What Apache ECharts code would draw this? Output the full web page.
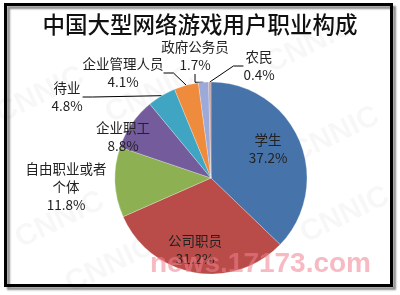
<!DOCTYPE html>
<html>
<head>
<meta charset="utf-8">
<script src="https://cdn.jsdelivr.net/npm/echarts@6/dist/echarts.min.js"></script>
<style>
  html, body { margin: 0; padding: 0; background: #fff; }
  #chart { width: 400px; height: 295px; }
</style>
</head>
<body>
<div id="chart"></div>
<script>
// Occupation breakdown of large online game users (percent)
const categories = ['学生', '公司职员', '自由职业或者个体', '企业职工', '待业', '企业管理人员', '政府公务员', '农民'];
const labelNames = ['学生', '公司职员', '自由职业或者\n个体', '企业职工', '待业', '企业管理人员', '政府公务员', '农民'];
const shares = [37.2, 31.2, 11.8, 8.8, 4.8, 4.1, 1.7, 0.4];

const sliceColors = ['#4573AA', '#B94C48', '#8DB152', '#745C9C', '#3FA5C2', '#EF8B3C', '#9CA9D9', '#C4A3A1'];
// label centres, in pixels
const labelSpots = [[268, 149], [195, 250], [66, 187], [123, 137], [67, 97], [123, 73], [195, 56], [259, 66]];
const withLeader = [false, false, false, false, true, true, true, true];

const chart = echarts.init(document.getElementById('chart'), null, { renderer: 'canvas' });

const watermarks = [
  [40, 95], [150, 95], [310, 45], [335, 135], [345, 215], [60, 220], [260, 200], [110, 265]
].map(function (p) {
  return {
    type: 'text', x: p[0], y: p[1], rotation: 0.45, z: 0,
    style: { text: 'CNNIC', fill: 'rgba(0,0,0,0.03)', font: 'bold 30px "Liberation Sans"', align: 'center', verticalAlign: 'middle' }
  };
});

chart.setOption({
  backgroundColor: '#fff',
  animation: false,
  title: {
    text: '中国大型网络游戏用户职业构成',
    left: 'center',
    top: 8,
    textStyle: { fontFamily: 'Noto Sans CJK SC', fontSize: 22.5, fontWeight: 500, color: '#111' }
  },
  graphic: watermarks.concat([
    {
      type: 'text', x: 8, y: -9, z: 5,
      style: { text: 'www.17173.com', fill: '#333', font: '10px "Liberation Sans"' }
    },
    {
      type: 'rect', z: 100, silent: true,
      shape: { x: 5.5, y: 4.5, width: 386, height: 281 },
      style: {
        fill: 'none', stroke: '#000', lineWidth: 3,
        shadowColor: 'rgba(0,0,0,0.45)', shadowBlur: 2, shadowOffsetX: 3, shadowOffsetY: 3
      }
    },
    {
      type: 'text', x: 150, y: 264, z: 110, silent: true,
      style: {
        text: 'news.17173.com', fill: 'rgba(240,128,144,0.55)',
        font: 'bold 28px "Liberation Sans"', verticalAlign: 'middle'
      }
    }
  ]),
  series: [{
    type: 'pie',
    center: [211, 178],
    radius: [0, 96],
    startAngle: 90,
    clockwise: true,
    avoidLabelOverlap: false,
    itemStyle: { borderColor: 'rgba(255,255,255,0.5)', borderWidth: 0.5 },
    label: {
      show: true,
      fontFamily: 'Noto Sans CJK SC',
      fontSize: 13.5,
      lineHeight: 18,
      color: '#222',
      align: 'center',
      formatter: function (p) { return labelNames[p.dataIndex] + '\n' + p.value.toFixed(1) + '%'; }
    },
    labelLine: { show: true, lineStyle: { color: '#000', width: 1 }, length: 10, length2: 10 },
    labelLayout: function (p) {
      const s = labelSpots[p.dataIndex];
      return { x: s[0], y: s[1], align: 'center', verticalAlign: 'middle' };
    },
    data: categories.map(function (c, i) {
      return {
        name: c,
        value: shares[i],
        itemStyle: { color: sliceColors[i] },
        labelLine: { show: withLeader[i] }
      };
    })
  }]
});
</script>
</body>
</html>
